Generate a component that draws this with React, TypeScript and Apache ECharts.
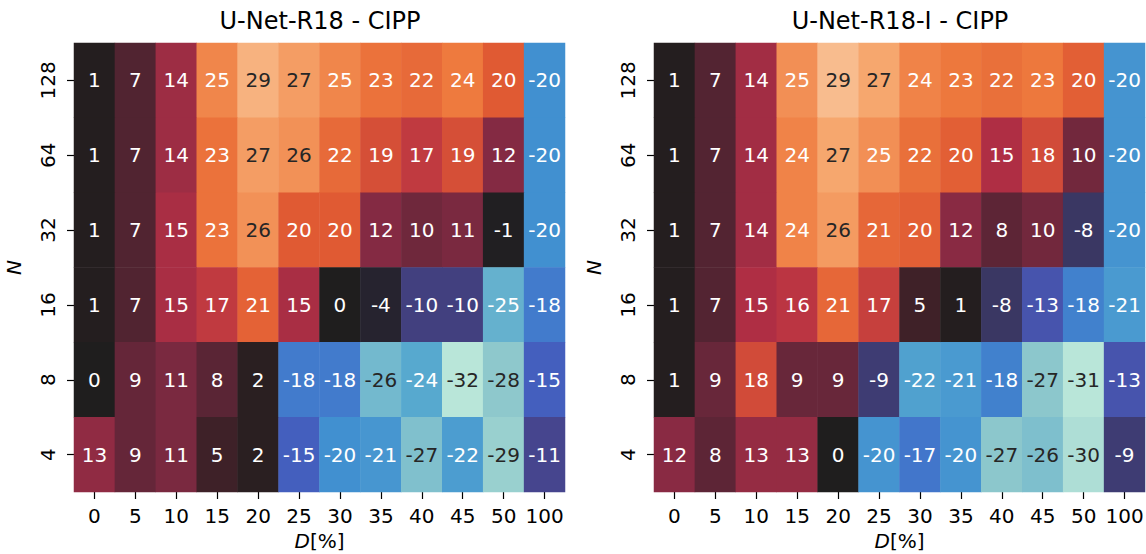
import React, { useEffect, useRef } from "react";
import * as echarts from "echarts";

const xCategories = ["0", "5", "10", "15", "20", "25", "30", "35", "40", "45", "50", "100"];
const yCategories = ["4", "8", "16", "32", "64", "128"]; // bottom to top
const leftTitle = "U-Net-R18 - CIPP";
const rightTitle = "U-Net-R18-I - CIPP";

// rows listed top (N=128) to bottom (N=4)
const leftValues = [
  [1, 7, 14, 25, 29, 27, 25, 23, 22, 24, 20, -20],
  [1, 7, 14, 23, 27, 26, 22, 19, 17, 19, 12, -20],
  [1, 7, 15, 23, 26, 20, 20, 12, 10, 11, -1, -20],
  [1, 7, 15, 17, 21, 15, 0, -4, -10, -10, -25, -18],
  [0, 9, 11, 8, 2, -18, -18, -26, -24, -32, -28, -15],
  [13, 9, 11, 5, 2, -15, -20, -21, -27, -22, -29, -11],
];
const rightValues = [
  [1, 7, 14, 25, 29, 27, 24, 23, 22, 23, 20, -20],
  [1, 7, 14, 24, 27, 25, 22, 20, 15, 18, 10, -20],
  [1, 7, 14, 24, 26, 21, 20, 12, 8, 10, -8, -20],
  [1, 7, 15, 16, 21, 17, 5, 1, -8, -13, -18, -21],
  [1, 9, 18, 9, 9, -9, -22, -21, -18, -27, -31, -13],
  [12, 8, 13, 13, 0, -20, -17, -20, -27, -26, -30, -9],
];

const icefire = [
  "#b9e6d9", "#8ec8cc", "#57a9cf", "#4190d0", "#4266c8", "#4a4a9e", "#39365f", "#26232f",
  "#1f1e1e",
  "#341f23", "#5a2535", "#842a43", "#b52f44", "#e05a33", "#ee7a3e", "#f6a870", "#fbd1ad",
];

const FONT = "DejaVu Sans";
const FS = 20;

function toData(rows: number[][]) {
  const out: number[][] = [];
  const n = rows.length;
  rows.forEach((row, r) => {
    row.forEach((v, c) => {
      out.push([c, n - 1 - r, v]);
    });
  });
  return out;
}

export default function App() {
  const ref = useRef<HTMLDivElement>(null);
  useEffect(() => {
    if (!ref.current) return;
    const chart = echarts.init(ref.current, null, { renderer: "svg" });
    const grids = [
      { left: 74, top: 43, width: 491, height: 449, outerBoundsMode: "none", containLabel: false },
      { left: 654, top: 43, width: 491, height: 449, outerBoundsMode: "none", containLabel: false },
    ];
    const mkX = (gi: number) => ({
      type: "category",
      gridIndex: gi,
      data: xCategories,
      axisLine: { show: false },
      axisTick: { show: true, alignWithLabel: true, interval: 0, length: 7, lineStyle: { color: "#000", width: 1.2 } },
      axisLabel: { color: "#000", fontSize: FS, fontFamily: FONT, margin: 14, interval: 0, hideOverlap: false },
      splitLine: { show: false },
      name: "{i|D}[%]",
      nameLocation: "middle",
      nameGap: 39,
      nameTextStyle: {
        color: "#000",
        fontSize: FS,
        lineHeight: 20,
        fontFamily: FONT,
        rich: { i: { fontStyle: "italic", fontSize: FS, lineHeight: 20, fontFamily: FONT, color: "#000" } },
      },
    });
    const mkY = (gi: number) => ({
      type: "category",
      gridIndex: gi,
      data: yCategories,
      axisLine: { show: false },
      axisTick: { show: true, alignWithLabel: true, interval: 0, length: 7, lineStyle: { color: "#000", width: 1.2 } },
      axisLabel: { color: "#000", fontSize: FS, fontFamily: FONT, margin: 16, rotate: 90, interval: 0, hideOverlap: false },
      splitLine: { show: false },
      name: "N",
      nameLocation: "middle",
      nameGap: 50,
      nameTextStyle: { color: "#000", fontSize: FS, fontFamily: FONT, fontStyle: "italic" },
    });
    const mkSeries = (gi: number, rows: number[][]) => ({
      type: "heatmap",
      xAxisIndex: gi,
      yAxisIndex: gi,
      data: toData(rows),
      emphasis: { disabled: true },
      itemStyle: { borderWidth: 0 },
      label: {
        show: true,
        formatter: (p: any) => {
          const v = p.value[2];
          return Math.abs(v) >= 26 ? `{d|${v}}` : `{w|${v}}`;
        },
        rich: {
          d: { color: "#262626", fontSize: FS, fontFamily: FONT },
          w: { color: "#ffffff", fontSize: FS, fontFamily: FONT },
        },
      },
    });
    chart.setOption({
      animation: false,
      backgroundColor: "#fff",
      grid: grids,
      xAxis: [mkX(0), mkX(1)],
      yAxis: [mkY(0), mkY(1)],
      visualMap: [
        { type: "continuous", show: false, seriesIndex: 0, min: -32, max: 32, dimension: 2, inRange: { color: icefire } },
        { type: "continuous", show: false, seriesIndex: 1, min: -31, max: 31, dimension: 2, inRange: { color: icefire } },
      ],
      series: [mkSeries(0, leftValues), mkSeries(1, rightValues)],
      graphic: [
        {
          type: "text",
          x: 320,
          y: 21,
          style: { text: leftTitle, fontSize: 24, fontFamily: FONT, fill: "#000", textAlign: "center", textVerticalAlign: "middle" },
        },
        {
          type: "text",
          x: 900,
          y: 21,
          style: { text: rightTitle, fontSize: 24, fontFamily: FONT, fill: "#000", textAlign: "center", textVerticalAlign: "middle" },
        },
      ],
    });
    return () => chart.dispose();
  }, []);
  return (
    <div
      ref={ref}
      style={{ position: "fixed", left: 0, top: 0, width: 1146, height: 554, background: "#fff" }}
    />
  );
}
